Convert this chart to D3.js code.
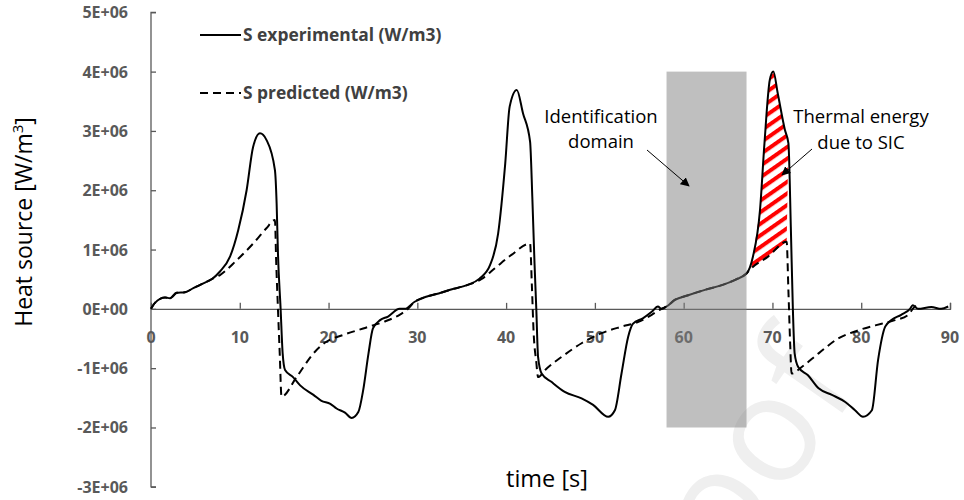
<!DOCTYPE html>
<html><head><meta charset="utf-8">
<script src="https://cdn.jsdelivr.net/npm/d3@7"></script>
<style>body{margin:0;background:#fff}svg{display:block}</style>
</head><body><svg id="c" width="964" height="500"></svg>
<script>
// ---- data (time in s, heat source in W/m3) ----
const expTime = [0,0.45,1.58,2.14,2.9,3.83,4.77,5.9,6.83,7.77,8.9,9.83,10.77,11.5,12.27,13.0,13.96,14.15,14.3,14.6,14.83,15.1,16.0,16.8,18.3,19.2,20.2,20.9,21.85,22.6,23.35,23.9,24.5,25.0,25.8,26.7,28.0,28.6,29.7,30.9,32.4,33.9,35.6,37.0,38.2,39.1,39.9,40.4,41.2,41.9,42.7,42.95,43.2,43.4,43.6,44.0,45.1,46.6,48.5,49.8,51.5,52.25,53.0,53.75,54.3,55.4,56.4,57.1,57.5,58.07,59.0,60.5,62.4,64.3,65.8,67.1,67.8,68.6,69.1,69.7,70.1,70.6,71.4,71.8,72.07,72.3,72.5,72.9,74.0,75.2,76.7,78.2,79.3,80.2,81.2,81.9,82.7,83.4,84.5,85.5,85.8,86.4,87.9,89.0,89.8];
const expValue = [0,0.1e6,0.19e6,0.18e6,0.27e6,0.28e6,0.35e6,0.43e6,0.5e6,0.63e6,0.88e6,1.33e6,2.0e6,2.73e6,2.96e6,2.85e6,2.34e6,1.78e6,0.94e6,0,-0.75e6,-1.03e6,-1.15e6,-1.29e6,-1.45e6,-1.55e6,-1.6e6,-1.68e6,-1.75e6,-1.84e6,-1.74e6,-1.37e6,-0.75e6,-0.33e6,-0.19e6,-0.13e6,0,0,0.12e6,0.2e6,0.26e6,0.33e6,0.4e6,0.51e6,0.74e6,1.27e6,2.45e6,3.41e6,3.69e6,3.3e6,2.82e6,1.89e6,0.77e6,0,-0.81e6,-1.09e6,-1.23e6,-1.4e6,-1.51e6,-1.62e6,-1.82e6,-1.71e6,-1.09e6,-0.47e6,-0.25e6,-0.16e6,-0.05e6,0.04e6,0,0.04e6,0.15e6,0.23e6,0.32e6,0.4e6,0.49e6,0.6e6,0.88e6,1.67e6,2.79e6,3.86e6,4.0e6,3.63e6,3.02e6,2.79e6,1.38e6,0,-0.75e6,-0.98e6,-1.12e6,-1.34e6,-1.45e6,-1.57e6,-1.71e6,-1.82e6,-1.71e6,-0.86e6,-0.3e6,-0.19e6,-0.1e6,0,0.06e6,0,0.03e6,0,0.04e6];
const predTime = [0,0.45,1.58,2.14,2.9,3.83,4.77,5.9,6.83,7.77,9.65,11.5,13.0,13.96,14.1,14.3,14.5,14.7,16.4,18.3,19.8,21.65,23.9,26.2,28.0,28.8,29.7,30.9,32.4,33.9,35.6,37.2,38.7,40.6,42.7,42.9,43.1,43.4,43.6,44.4,46.25,48.5,50.75,53.0,54.9,56.4,57.5,58.07,59.0,60.5,62.4,64.3,65.8,67.1,67.6,69.5,71.6,71.8,72.0,72.15,73.3,75.2,77.4,79.7,82.3,83.8,85.3,85.8,86.2];
const predValue = [0,0.1e6,0.19e6,0.18e6,0.27e6,0.28e6,0.35e6,0.43e6,0.5e6,0.57e6,0.82e6,1.1e6,1.36e6,1.5e6,0.8e6,0,-0.75e6,-1.48e6,-1.15e6,-0.75e6,-0.55e6,-0.44e6,-0.33e6,-0.22e6,-0.1e6,-0.02e6,0.12e6,0.2e6,0.26e6,0.33e6,0.4e6,0.5e6,0.68e6,0.91e6,1.1e6,0.4e6,-0.4e6,-0.9e6,-1.15e6,-1.03e6,-0.81e6,-0.58e6,-0.41e6,-0.3e6,-0.22e6,-0.1e6,0,0.04e6,0.15e6,0.23e6,0.32e6,0.4e6,0.49e6,0.6e6,0.68e6,0.88e6,1.13e6,0.3e6,-0.6e6,-1.09e6,-0.98e6,-0.75e6,-0.5e6,-0.36e6,-0.25e6,-0.19e6,-0.1e6,0,0.06e6];
const xTicks = [10,20,30,40,50,60,70,80,90];
const xTickLabels = ["10","20","30","40","50","60","70","80","90"];
const yTicks = [-3e6,-2e6,-1e6,0,1e6,2e6,3e6,4e6,5e6];
const yTickLabels = ["-3E+06","-2E+06","-1E+06","0E+00","1E+06","2E+06","3E+06","4E+06","5E+06"];
const seriesNames = ["S experimental (W/m3)","S predicted (W/m3)"];
const idDomain = [58.07, 67.08];
const idDomainY = [-2e6, 4e6];
const sicRange = [67.6, 71.8];

// ---- drawing ----
const svg = d3.select("#c");
const x = d3.scaleLinear().domain([0,90]).range([151,950]);
const y = d3.scaleLinear().domain([-3e6,5e6]).range([486.8,12.3]);
const axisCol = "#595959";
const tickFont = "'Open Sans', sans-serif";

// watermark
svg.append("text").attr("transform","translate(862,385) rotate(-55)")
  .attr("text-anchor","end").attr("font-family","'Open Sans', sans-serif")
  .attr("font-size",150).attr("fill","#efefef").text("Journal Pre-proof");

// hatch pattern
const defs = svg.append("defs");
const pat = defs.append("pattern").attr("id","hatch").attr("patternUnits","userSpaceOnUse")
  .attr("width",20).attr("height",9.5).attr("patternTransform","rotate(-35)");
pat.append("rect").attr("width",20).attr("height",9.5).attr("fill","#fff");
pat.append("rect").attr("width",20).attr("height",4).attr("fill","#ff0000");
const mk = defs.append("marker").attr("id","arr").attr("viewBox","0 0 10 10").attr("refX",9).attr("refY",5)
  .attr("markerWidth",9).attr("markerHeight",9).attr("orient","auto").attr("markerUnits","userSpaceOnUse");
mk.append("path").attr("d","M0,0L10,5L0,10Z").attr("fill","#000");

// x tick labels (under lines)
svg.append("g").selectAll("text").data([0].concat(xTicks)).join("text")
  .attr("x",d=>x(d)).attr("y",y(0)+34).attr("text-anchor","middle")
  .attr("font-family",tickFont).attr("font-weight","bold").attr("font-size",16).attr("fill",axisCol)
  .text((d,i)=> i===0 ? "0" : xTickLabels[i-1]);

// y tick labels
svg.append("g").selectAll("text").data(yTicks).join("text")
  .attr("x",128).attr("y",d=>y(d)+6).attr("text-anchor","end")
  .attr("font-family",tickFont).attr("font-weight","bold").attr("font-size",16).attr("fill",axisCol)
  .text((d,i)=>yTickLabels[i]);

// axes
const yAxis = d3.axisRight(y).tickValues(yTicks).tickSize(5).tickFormat("");
const gy = svg.append("g").attr("transform",`translate(${x(0)},0)`).call(yAxis);
const xAxis = d3.axisTop(x).tickValues(xTicks).tickSize(6).tickFormat("");
const gx = svg.append("g").attr("transform",`translate(0,${y(0)})`).call(xAxis);
[gx,gy].forEach(g=>{g.selectAll("path,line").attr("stroke",axisCol).attr("stroke-width",1.3);});
gy.select(".domain").attr("d",`M5,${y(5e6)}H0V${y(-3e6)}H5`);

// hatched area (between experimental and predicted)
const expPts = expTime.map((t,i)=>[t,expValue[i]]);
const predPts = predTime.map((t,i)=>[t,predValue[i]]);
const upperEdge = expPts.filter(p=>p[0]>=sicRange[0]+0.2 && p[0]<=sicRange[1]);
const lowerEdge = predPts.filter(p=>p[0]>=sicRange[0] && p[0]<=sicRange[1]-0.2).reverse();
const poly = d3.line().x(p=>x(p[0])).y(p=>y(p[1]));
svg.append("path").attr("d",poly(upperEdge.concat(lowerEdge))+"Z").attr("fill","url(#hatch)");

// lines
const line = d3.line().x(p=>x(p[0])).y(p=>y(p[1])).curve(d3.curveMonotoneX);
svg.append("path").attr("d",line(predPts)).attr("fill","none").attr("stroke","#000")
  .attr("stroke-width",2).attr("stroke-dasharray","8,5");
svg.append("path").attr("d",line(expPts)).attr("fill","none").attr("stroke","#000")
  .attr("stroke-width",2);

// identification domain (semi-transparent)
svg.append("rect").attr("x",x(idDomain[0])).attr("width",x(idDomain[1])-x(idDomain[0]))
  .attr("y",y(idDomainY[1])).attr("height",y(idDomainY[0])-y(idDomainY[1]))
  .attr("fill","#808080").attr("fill-opacity",0.5);

// legend
const lg = svg.append("g");
[[35,null],[93,"8,5"]].forEach((s,i)=>{
  lg.append("line").attr("x1",200).attr("x2",241).attr("y1",s[0]).attr("y2",s[0])
    .attr("stroke","#000").attr("stroke-width",2).attr("stroke-dasharray",s[1]);
  lg.append("text").attr("x",243).attr("y",s[0]+6).attr("font-family",tickFont).attr("font-weight","bold")
    .attr("font-size",17.4).attr("fill","#404040").text(seriesNames[i]);
});

// annotations
const ann = svg.append("g").attr("font-family","'Open Sans', sans-serif").attr("font-size",18.5).attr("fill","#000").attr("text-anchor","middle");
ann.append("text").attr("x",601).attr("y",123).text("Identification");
ann.append("text").attr("x",601).attr("y",148).text("domain");
ann.append("text").attr("x",861).attr("y",123).text("Thermal energy");
ann.append("text").attr("x",861).attr("y",149).text("due to SIC");
svg.append("line").attr("x1",647).attr("y1",150).attr("x2",689).attr("y2",186)
  .attr("stroke","#000").attr("stroke-width",1).attr("marker-end","url(#arr)");
svg.append("line").attr("x1",812).attr("y1",149).attr("x2",782).attr("y2",175)
  .attr("stroke","#000").attr("stroke-width",1).attr("marker-end","url(#arr)");

// axis titles
svg.append("text").attr("transform","translate(32,222) rotate(-90)").attr("text-anchor","middle")
  .attr("font-family","'Open Sans', sans-serif").attr("font-size",23).attr("fill","#000")
  .html('Heat source [W/m<tspan dy="-9" font-size="15">3</tspan><tspan dy="9">]</tspan>');
svg.append("text").attr("x",547).attr("y",487).attr("text-anchor","middle")
  .attr("font-family","'Open Sans', sans-serif").attr("font-size",23.5).attr("fill","#000").text("time [s]");
</script></body></html>
